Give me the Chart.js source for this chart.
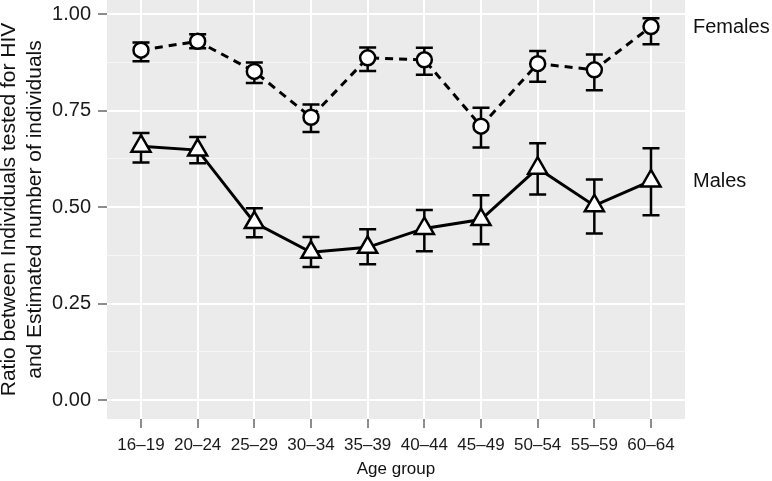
<!DOCTYPE html>
<html>
<head>
<meta charset="utf-8">
<title>Tested for HIV ratio by age group</title>
<script src="https://cdn.jsdelivr.net/npm/chart.js@4.4.1/dist/chart.umd.min.js"></script>
<style>
    body { margin: 0; background: #fff; }
    #chart { display: block; }
</style>
</head>
<body>
<canvas id="chart" width="772" height="481"></canvas>
<script>
// values
const ageGroups = ['16–19', '20–24', '25–29', '30–34', '35–39', '40–44', '45–49', '50–54', '55–59', '60–64'];

const femaleRatio = [0.907, 0.930, 0.852, 0.733, 0.887, 0.882, 0.710, 0.872, 0.856, 0.968];
const femaleLower = [0.878, 0.912, 0.822, 0.695, 0.853, 0.843, 0.655, 0.825, 0.803, 0.922];
const femaleUpper = [0.927, 0.948, 0.875, 0.766, 0.914, 0.913, 0.758, 0.905, 0.896, 0.990];

const maleRatio = [0.658, 0.648, 0.460, 0.383, 0.396, 0.445, 0.468, 0.601, 0.504, 0.568];
const maleLower = [0.616, 0.614, 0.422, 0.345, 0.352, 0.386, 0.404, 0.533, 0.432, 0.479];
const maleUpper = [0.692, 0.682, 0.497, 0.423, 0.443, 0.493, 0.531, 0.666, 0.572, 0.653];

const yTicks = [0, 0.125, 0.25, 0.375, 0.5, 0.625, 0.75, 0.875, 1];
const seriesNames = ['Females', 'Males'];

document.addEventListener('DOMContentLoaded', function() {
    const FONT = '"Liberation Sans", Arial, Helvetica, sans-serif';

    function isMajor(v) {
        return Math.abs(v * 4 - Math.round(v * 4)) < 1e-9;
    }

    function toPoints(values) {
        return values.map((v, i) => ({ x: i, y: v }));
    }

    // grey ggplot-style panel behind the grid
    const panelBackground = {
        id: 'panelBackground',
        beforeDraw(chart) {
            const { ctx, chartArea } = chart;
            ctx.save();
            ctx.fillStyle = '#EBEBEB';
            ctx.fillRect(chartArea.left, chartArea.top, chartArea.right - chartArea.left, chartArea.bottom - chartArea.top);
            ctx.restore();
        }
    };

    // error bars with caps, drawn under lines and points
    const errorBars = {
        id: 'errorBars',
        beforeDatasetsDraw(chart) {
            const { ctx, scales } = chart;
            ctx.save();
            ctx.strokeStyle = '#000';
            ctx.lineWidth = 2.5;
            chart.data.datasets.forEach(ds => {
                ds.lower.forEach((lo, i) => {
                    const x = scales.x.getPixelForValue(i);
                    const yLo = scales.y.getPixelForValue(lo);
                    const yHi = scales.y.getPixelForValue(ds.upper[i]);
                    ctx.beginPath();
                    ctx.moveTo(x, yLo);
                    ctx.lineTo(x, yHi);
                    ctx.moveTo(x - 8.5, yLo);
                    ctx.lineTo(x + 8.5, yLo);
                    ctx.moveTo(x - 8.5, yHi);
                    ctx.lineTo(x + 8.5, yHi);
                    ctx.stroke();
                });
            });
            ctx.restore();
        }
    };

    // direct labels right of the panel, at the last value of each series
    const seriesLabels = {
        id: 'seriesLabels',
        afterDraw(chart) {
            const { ctx, chartArea, scales } = chart;
            ctx.save();
            ctx.font = '20px ' + FONT;
            ctx.fillStyle = '#111';
            ctx.textAlign = 'left';
            ctx.textBaseline = 'middle';
            chart.data.datasets.forEach(ds => {
                const last = ds.data[ds.data.length - 1].y;
                ctx.fillText(ds.label, chartArea.right + 8, scales.y.getPixelForValue(last) + 1);
            });
            ctx.restore();
        }
    };

    new Chart(document.getElementById('chart'), {
        type: 'line',
        data: {
            datasets: [{
                label: seriesNames[0],
                data: toPoints(femaleRatio),
                lower: femaleLower,
                upper: femaleUpper,
                borderColor: '#000',
                borderWidth: 3,
                borderDash: [8, 6],
                pointStyle: 'circle',
                pointRadius: 7.5,
                pointBorderWidth: 2.5,
                pointBackgroundColor: '#fff',
                pointBorderColor: '#000',
                clip: false,
                tension: 0
            }, {
                label: seriesNames[1],
                data: toPoints(maleRatio),
                lower: maleLower,
                upper: maleUpper,
                borderColor: '#000',
                borderWidth: 3,
                pointStyle: 'triangle',
                pointRadius: 11,
                pointBorderWidth: 2.5,
                pointBackgroundColor: '#fff',
                pointBorderColor: '#000',
                clip: false,
                tension: 0
            }]
        },
        options: {
            responsive: false,
            devicePixelRatio: 1,
            animation: false,
            layout: {
                autoPadding: false, // no extra room for point radius, panel starts at the top edge
                padding: { left: 0, right: 87, top: 0, bottom: 0 }
            },
            plugins: {
                legend: { display: false },
                tooltip: { enabled: false }
            },
            scales: {
                x: {
                    type: 'linear',
                    min: -0.6,
                    max: 9.6,
                    afterBuildTicks: scale => {
                        scale.ticks = ageGroups.map((_, i) => ({ value: i }));
                    },
                    afterFit: scale => {
                        scale.height = 62;
                        scale.paddingLeft = 0;
                        scale.paddingRight = 0;
                    },
                    ticks: {
                        autoSkip: false,
                        maxRotation: 0,
                        padding: 7,
                        color: '#1a1a1a',
                        font: { family: FONT, size: 17 },
                        callback: v => ageGroups[v]
                    },
                    grid: {
                        color: '#fff',
                        lineWidth: 2,
                        tickLength: 9,
                        tickColor: '#666',
                        tickWidth: 1.5
                    },
                    border: { display: false },
                    title: {
                        display: true,
                        text: 'Age group',
                        color: '#111',
                        font: { family: FONT, size: 17 },
                        padding: { top: 0, bottom: 1 }
                    }
                },
                y: {
                    min: -0.049,
                    max: 1.037,
                    afterBuildTicks: scale => {
                        scale.ticks = yTicks.map(v => ({ value: v }));
                    },
                    afterFit: scale => {
                        scale.width = 107;
                        scale.paddingTop = 0;
                        scale.paddingBottom = 0;
                    },
                    ticks: {
                        autoSkip: false,
                        padding: 7,
                        color: '#1a1a1a',
                        font: { family: FONT, size: 20 },
                        callback: v => isMajor(v) ? v.toFixed(2) : ''
                    },
                    grid: {
                        color: ctx => isMajor(ctx.tick.value) ? '#fff' : '#F6F6F6',
                        lineWidth: ctx => isMajor(ctx.tick.value) ? 2 : 1,
                        tickLength: 9,
                        tickColor: ctx => isMajor(ctx.tick.value) ? '#666' : 'rgba(0,0,0,0)',
                        tickWidth: 1.5
                    },
                    border: { display: false },
                    title: {
                        display: true,
                        text: ['Ratio between Individuals tested for HIV', 'and Estimated number of individuals'],
                        color: '#111',
                        font: { family: FONT, size: 21, lineHeight: 1.25 },
                        padding: { top: -4, bottom: 0 }
                    }
                }
            }
        },
        plugins: [panelBackground, errorBars, seriesLabels]
    });
});
</script>
</body>
</html>
